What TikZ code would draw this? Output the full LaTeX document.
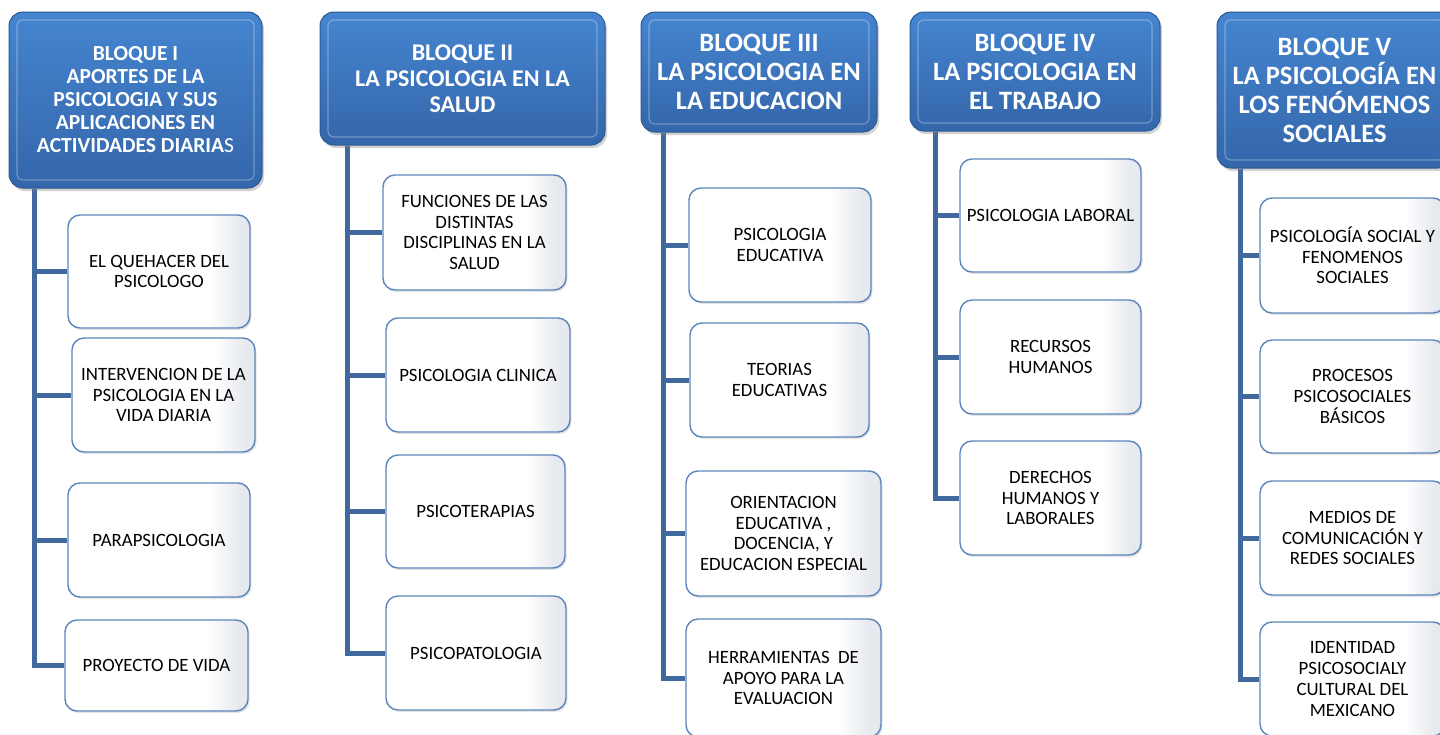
\documentclass[tikz,border=0pt]{standalone}
\usepackage{fontspec}
\setmainfont{Carlito}
\usetikzlibrary{backgrounds,shadows}
\definecolor{hdrtop}{HTML}{4585D0}
\definecolor{hdrbot}{HTML}{3466AA}
\definecolor{hdredge}{HTML}{2B5A92}
\definecolor{kidedge}{HTML}{5B86BC}
\definecolor{kidright}{HTML}{E6E9EE}
\definecolor{conncol}{HTML}{41699E}
\pgfdeclarehorizontalshading{kidshade}{100bp}{color(0bp)=(white); color(64bp)=(white); color(72bp)=(kidright); color(100bp)=(kidright)}
\begin{document}
\begin{tikzpicture}[x=1pt,y=-1pt,
 hdr/.style={rounded corners=14pt, draw=hdredge, line width=1pt, top color=hdrtop, bottom color=hdrbot,
   text=white, align=center, inner sep=2pt,
   drop shadow={shadow xshift=2pt, shadow yshift=-3pt, opacity=0.35},
   path picture={\draw[white, opacity=0.3, line width=1.2pt, rounded corners=6pt]
     ([shift={(8pt,-8pt)}]path picture bounding box.north west) rectangle
     ([shift={(-8pt,8pt)}]path picture bounding box.south east);}},
 kid/.style={rounded corners=12pt, draw=kidedge, line width=1.4pt, shading=kidshade,
   align=center, font=\fontsize{18.8}{20.7}\selectfont, inner sep=2pt,
   drop shadow={shadow xshift=1.5pt, shadow yshift=-2pt, opacity=0.2}},
 conn/.style={draw=conncol, line width=5pt}]
\useasboundingbox (0,0) rectangle (1440,734);

% Column 1
\node[hdr, minimum width=253pt, minimum height=176pt, font=\bfseries\fontsize{21.5}{23}\selectfont] (h1) at (135.5,100)
  {BLOQUE I\\APORTES DE LA\\PSICOLOGIA Y SUS\\APLICACIONES EN\\ACTIVIDADES DIARIA{\mdseries S}};
\node[kid, minimum width=182pt, minimum height=113pt] (c11) at (159,271.5) {EL QUEHACER DEL\\PSICOLOGO};
\node[kid, minimum width=183pt, minimum height=114pt] (c12) at (163.5,395) {INTERVENCION DE LA\\PSICOLOGIA EN LA\\VIDA DIARIA};
\node[kid, minimum width=182pt, minimum height=114pt] (c13) at (159,540) {PARAPSICOLOGIA};
\node[kid, minimum width=183pt, minimum height=91pt] (c14) at (156.5,665.5) {PROYECTO DE VIDA};

% Column 2
\node[hdr, minimum width=285pt, minimum height=133pt, font=\bfseries\fontsize{24}{26}\selectfont] (h2) at (462.5,78.5)
  {BLOQUE II\\LA PSICOLOGIA EN LA\\SALUD};
\node[kid, minimum width=183pt, minimum height=115pt] (c21) at (474.5,232.5) {FUNCIONES DE LAS\\DISTINTAS\\DISCIPLINAS EN LA\\SALUD};
\node[kid, minimum width=184pt, minimum height=114pt] (c22) at (478,375) {PSICOLOGIA CLINICA};
\node[kid, minimum width=179pt, minimum height=113pt] (c23) at (475.5,511.5) {PSICOTERAPIAS};
\node[kid, minimum width=180pt, minimum height=114pt] (c24) at (476,653) {PSICOPATOLOGIA};

% Column 3
\node[hdr, minimum width=236pt, minimum height=120pt, font=\bfseries\fontsize{26.5}{29}\selectfont] (h3) at (759,72)
  {BLOQUE III\\LA PSICOLOGIA EN\\LA EDUCACION};
\node[kid, minimum width=182pt, minimum height=114pt] (c31) at (780,245) {PSICOLOGIA\\EDUCATIVA};
\node[kid, minimum width=179pt, minimum height=114pt] (c32) at (779.5,380) {TEORIAS\\EDUCATIVAS};
\node[kid, minimum width=195pt, minimum height=125pt] (c33) at (783.5,533.5) {ORIENTACION\\EDUCATIVA ,\\DOCENCIA, Y\\EDUCACION ESPECIAL};
\node[kid, minimum width=195pt, minimum height=118pt] (c34) at (783.5,678) {HERRAMIENTAS~~DE\\APOYO PARA LA\\EVALUACION};

% Column 4
\node[hdr, minimum width=250pt, minimum height=119pt, font=\bfseries\fontsize{26.5}{29}\selectfont] (h4) at (1035,71.5)
  {BLOQUE IV\\LA PSICOLOGIA EN\\EL TRABAJO};
\node[kid, minimum width=181pt, minimum height=113pt] (c41) at (1050.5,215.5) {PSICOLOGIA LABORAL};
\node[kid, minimum width=181pt, minimum height=114pt] (c42) at (1050.5,357) {RECURSOS\\HUMANOS};
\node[kid, minimum width=181pt, minimum height=114pt] (c43) at (1050.5,498) {DERECHOS\\HUMANOS Y\\LABORALES};

% Column 5
\node[hdr, minimum width=235pt, minimum height=156pt, font=\bfseries\fontsize{26.5}{29}\selectfont] (h5) at (1334.5,90)
  {BLOQUE V\\LA PSICOLOGÍA EN\\LOS FENÓMENOS\\SOCIALES};
\node[kid, minimum width=185pt, minimum height=115pt] (c51) at (1352.5,255.5) {PSICOLOGÍA SOCIAL Y\\FENOMENOS\\SOCIALES};
\node[kid, minimum width=185pt, minimum height=113pt] (c52) at (1352.5,396.5) {PROCESOS\\PSICOSOCIALES\\BÁSICOS};
\node[kid, minimum width=185pt, minimum height=114pt] (c53) at (1352.5,538) {MEDIOS DE\\COMUNICACIÓN Y\\REDES SOCIALES};
\node[kid, minimum width=185pt, minimum height=114pt] (c54) at (1352.5,679) {IDENTIDAD\\PSICOSOCIALY\\CULTURAL DEL\\MEXICANO};

% Connectors
\coordinate (s1) at ([xshift=26pt]h1.south west);
\coordinate (s2) at ([xshift=28pt]h2.south west);
\coordinate (s3) at ([xshift=23pt]h3.south west);
\coordinate (s4) at ([xshift=26pt]h4.south west);
\coordinate (s5) at ([xshift=24pt]h5.south west);
\begin{scope}[on background layer]
\fill[white] (0,0) rectangle (1440,734);
\draw[conn] (s1) |- (c14.west);
\foreach \c in {c11,c12,c13} \draw[conn] (s1 |- \c.west) -- (\c.west);
\draw[conn] (s2) |- (c24.west);
\foreach \c in {c21,c22,c23} \draw[conn] (s2 |- \c.west) -- (\c.west);
\draw[conn] (s3) |- (c34.west);
\foreach \c in {c31,c32,c33} \draw[conn] (s3 |- \c.west) -- (\c.west);
\draw[conn] (s4) |- (c43.west);
\foreach \c in {c41,c42} \draw[conn] (s4 |- \c.west) -- (\c.west);
\draw[conn] (s5) |- (c54.west);
\foreach \c in {c51,c52,c53} \draw[conn] (s5 |- \c.west) -- (\c.west);
\end{scope}
\end{tikzpicture}
\end{document}
